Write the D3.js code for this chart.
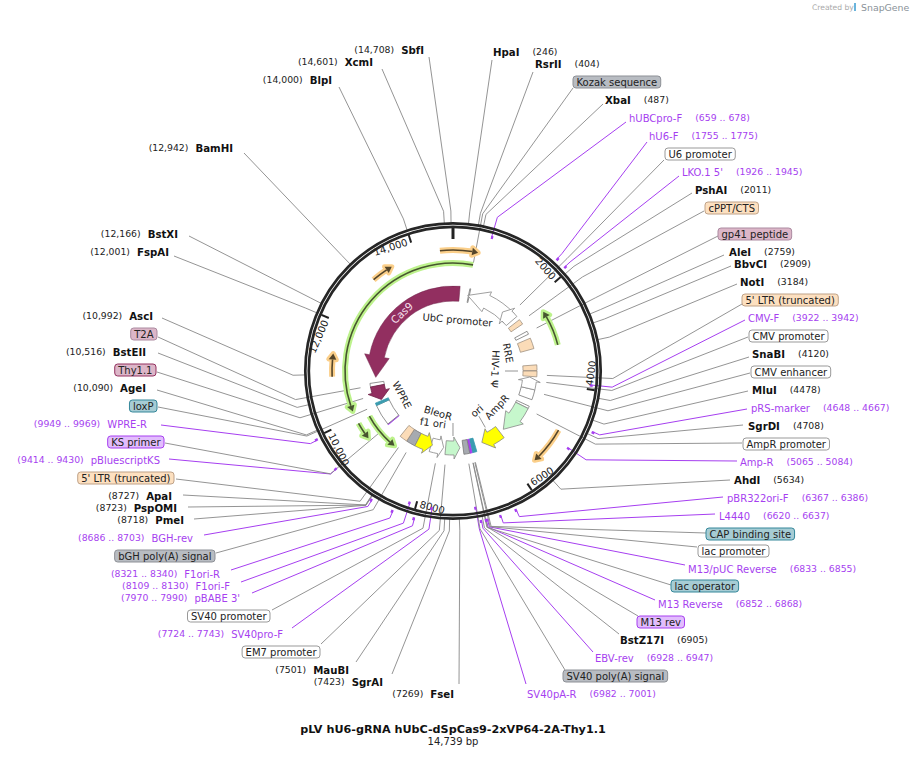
<!DOCTYPE html>
<html>
<head>
<meta charset="utf-8">
<script src="https://cdn.jsdelivr.net/npm/d3@7"></script>
<style>
  html, body { margin: 0; background: #fff; }
  text { font-family: "DejaVu Sans", sans-serif; }
</style>
</head>
<body>
<div id="chart"></div>
<script>
const totalBp = 14739;
const tickValues = [0, 2000, 4000, 6000, 8000, 10000, 12000, 14000];

// restriction sites [name, position]
const sites = [
  ["HpaI", 246], ["RsrII", 404], ["XbaI", 487], ["PshAI", 2011], ["AleI", 2759], ["BbvCI", 2909],
  ["NotI", 3184], ["SnaBI", 4120], ["MluI", 4478], ["SgrDI", 4708], ["AhdI", 5634], ["BstZ17I", 6905],
  ["FseI", 7269], ["SgrAI", 7423], ["MauBI", 7501], ["PmeI", 8718], ["PspOMI", 8723], ["ApaI", 8727],
  ["AgeI", 10090], ["BstEII", 10516], ["AscI", 10992], ["FspAI", 12001], ["BstXI", 12166],
  ["BamHI", 12942], ["BlpI", 14000], ["XcmI", 14601], ["SbfI", 14708]
];

// primers [name, start, end]
const primers = [
  ["hUBCpro-F", 659, 678], ["hU6-F", 1755, 1775], ["LKO.1 5'", 1926, 1945], ["CMV-F", 3922, 3942],
  ["pRS-marker", 4648, 4667], ["Amp-R", 5065, 5084], ["pBR322ori-F", 6367, 6386], ["L4440", 6620, 6637],
  ["M13/pUC Reverse", 6833, 6855], ["M13 Reverse", 6852, 6868], ["EBV-rev", 6928, 6947],
  ["SV40pA-R", 6982, 7001], ["SV40pro-F", 7724, 7743], ["pBABE 3'", 7970, 7990], ["F1ori-F", 8109, 8130],
  ["F1ori-R", 8321, 8340], ["BGH-rev", 8686, 8703], ["pBluescriptKS", 9414, 9430], ["WPRE-R", 9949, 9969]
];

// boxed feature labels [name, position the leader points at, colour group]
const featureLabels = [
  ["Kozak sequence", 438, "grey"], ["U6 promoter", 1859, "white"], ["cPPT/CTS", 2211, "orange"],
  ["gp41 peptide", 2571, "pink"], ["5' LTR (truncated)", 3795, "orange"], ["CMV promoter", 3971, "white"],
  ["CMV enhancer", 4274, "white"], ["AmpR promoter", 4798, "white"], ["CAP binding site", 6805, "teal"],
  ["lac promoter", 6820, "white"], ["lac operator", 6868, "teal"], ["M13 rev", 6861, "purple"],
  ["SV40 poly(A) signal", 6972, "grey"], ["EM7 promoter", 7570, "white"], ["SV40 promoter", 7812, "white"],
  ["bGH poly(A) signal", 8594, "grey"], ["5' LTR (truncated) ", 8823, "orange"], ["KS primer", 9417, "purple"],
  ["loxP", 10072, "teal"], ["Thy1.1", 10358, "thy"], ["T2A", 10633, "pink"]
];

// map arrows [name, start, head base, tip, fill]
const mapArrows = [
  ["Cas9", 197, 11505, 10862, "cas"], ["Thy1.1", 10604, 10420, 10166, "cas"],
  ["UbC promoter", 1924, 1064, 450, "white"], ["U6 promoter", 2027, 1822, 1638, "white"],
  ["CMV promoter", 4217, 3992, 3869, "white"], ["AmpR", 4770, 5200, 5699, "green"],
  ["ori", 5834, 6182, 6469, "yellow"], ["BleoR", 7595, 7341, 7157, "green"],
  ["SV40 promoter", 8045, 7799, 7656, "white"], ["f1 ori", 8475, 8229, 8004, "yellow"]
];

// map boxes [name, start, end, fill]
const mapBoxes = [
  ["Kozak", 475, 500, "white"], ["cPPT", 2141, 2293, "orange"], ["gp41", 2530, 2620, "white"],
  ["RRE", 2743, 3050, "orange"], ["LTR a", 3513, 3672, "orange"], ["LTR b", 3685, 3848, "orange"],
  ["CMV enhancer", 4217, 4504, "white"], ["AmpR promoter", 4700, 4770, "white"],
  ["lac", 6694, 6825, "teal"], ["M13 rev", 6833, 6890, "purple"], ["SV40 pA", 6898, 7063, "grey"],
  ["bGH", 8475, 8741, "grey"], ["LTR c", 8741, 8966, "orange"], ["KS", 9429, 9453, "purple"],
  ["WPRE", 9453, 10059, "white"], ["loxP", 10059, 10133, "teal"], ["T2A", 10592, 10706, "white"]
];

// translated regions drawn as thin highlighted arrows [start, tip, tier]
const orfArrows = [
  [438, 10153, "green"], [3112, 2321, "green"], [9867, 9478, "green"], [9892, 8925, "greenIn"],
  [14485, 491, "orange"], [13060, 13494, "orange"], [10944, 11394, "orange"], [4884, 5634, "orange"]
];

// short leaders of the labels inside the map [position]
const innerLeaders = [3685, 6150, 7370];

// ---------- layout, kept apart from the values ----------
const width = 910, height = 778, cx = 453, cy = 371;
const ringR = 149, elbowR = 160, featureLeaderR = 94;
const markOuter = 153, markInner = 139;
const innerMarkPrimers = ["hUBCpro-F", "CMV-F", "Amp-R", "SV40pA-R", "SV40pro-F", "F1ori-F"];
const sideSplit = 7100; // positions past this are labelled on the left

// name: [label x, label y, leader x, leader y]
const labelAt = {
  "HpaI": [493, 52, 492, 60], "RsrII": [535, 64, 533, 72], "Kozak sequence": [573, 82, 573, 88],
  "XbaI": [605, 100, 603, 104], "hUBCpro-F": [629, 118, 626, 122], "hU6-F": [649, 136, 647, 142],
  "U6 promoter": [665, 154, 664, 160], "LKO.1 5'": [682, 172, 679, 176], "PshAI": [695, 190, 692, 193],
  "cPPT/CTS": [705, 208, 704, 211], "gp41 peptide": [718, 234, 718, 236], "AleI": [729, 252, 724, 255],
  "BbvCI": [734, 264, 731, 266], "NotI": [740, 282, 737, 284], "5' LTR (truncated)": [742, 300, 742, 304],
  "CMV-F": [748, 318, 745, 320], "CMV promoter": [749, 336, 748, 337], "SnaBI": [752, 354, 749, 357],
  "CMV enhancer": [751, 372, 750, 373], "MluI": [752, 390, 748, 391], "pRS-marker": [751, 408, 747, 409],
  "SgrDI": [748, 426, 743, 425], "AmpR promoter": [743, 444, 742, 443], "Amp-R": [740, 462, 737, 461],
  "AhdI": [734, 480, 730, 480], "pBR322ori-F": [727, 498, 723, 497], "L4440": [719, 516, 715, 514],
  "CAP binding site": [706, 534, 706, 533], "lac promoter": [698, 551, 697, 547],
  "M13/pUC Reverse": [688, 569, 685, 565], "lac operator": [671, 586, 671, 585],
  "M13 Reverse": [658, 604, 655, 600], "M13 rev": [637, 622, 638, 616], "BstZ17I": [620, 640, 619, 634],
  "EBV-rev": [595, 658, 593, 652], "SV40 poly(A) signal": [563, 676, 565, 670], "SV40pA-R": [527, 694, 526, 684],
  "SbfI": [424, 50, 429, 57], "XcmI": [373, 62, 382, 69], "BlpI": [332, 80, 339, 87], "BamHI": [233, 148, 244, 153],
  "BstXI": [178, 234, 189, 236], "FspAI": [169, 252, 174, 256], "AscI": [153, 316, 162, 318], "T2A": [157, 334, 158, 337],
  "BstEII": [146, 352, 158, 353], "Thy1.1": [156, 370, 157, 372], "AgeI": [146, 388, 157, 390], "loxP": [157, 406, 158, 407],
  "WPRE-R": [147, 424, 161, 425], "KS primer": [164, 442, 165, 443], "pBluescriptKS": [160, 460, 169, 459],
  "5' LTR (truncated) ": [174, 478, 176, 479], "ApaI": [172, 496, 183, 495], "PspOMI": [177, 508, 188, 507],
  "PmeI": [184, 520, 194, 519], "BGH-rev": [193, 538, 204, 535], "bGH poly(A) signal": [215, 556, 216, 553],
  "F1ori-R": [220, 574, 231, 570], "F1ori-F": [230, 586, 241, 582], "pBABE 3'": [240, 598, 252, 593],
  "SV40 promoter": [270, 616, 272, 610], "SV40pro-F": [283, 634, 292, 628], "EM7 promoter": [320, 652, 321, 644],
  "MauBI": [349, 670, 356, 662], "SgrAI": [383, 682, 392, 674], "FseI": [454, 694, 459, 684]
};

// text inside the map: [text, x, y, rotation]
const innerTexts = [
  ["UbC promoter", 457.5, 320, 5], ["RRE", 508, 353, 80], ["HIV-1 \u03A8", 495, 369, 93],
  ["AmpR", 497, 407, -47], ["ori", 477, 411, -40], ["BleoR", 438, 413, 17],
  ["f1 ori", 433, 423, 8], ["WPRE", 402, 395, 62]
];

const boxColors = {
  grey: ["#b8bcc2", "#8d9096"], white: ["#fff", "#999"], orange: ["#fde0c0", "#bfa288"],
  pink: ["#dcb6c8", "#ab8aa0"], thy: ["#dcb6c8", "#93305f"], teal: ["#a6ccd4", "#34879a"],
  purple: ["#e2bdfd", "#a63ff0"]
};
const arrowColors = {
  cas: ["#922f60", "#6e2248"], white: ["#fff", "#888"], green: ["#c6f7cc", "#888"], yellow: ["#ffff00", "#888"]
};
const mapFills = {
  white: ["#fff", "#777"], orange: ["#fbdcb8", "#a09080"], teal: ["#3a9cb0", "#3a9cb0"],
  purple: ["#a63ff0", "#a63ff0"], grey: ["#a6aab0", "#777"]
};
const orfStyle = {
  green: { r: 108, glow: "#bdf28c", line: "#47552f" },
  greenIn: { r: 95, glow: "#bdf28c", line: "#47552f" },
  orange: { r: 121, glow: "#fbcf8a", line: "#54452a" }
};
const purple = "#a63ff0";

// ---------- drawing ----------
const angle = d3.scaleLinear().domain([0, totalBp]).range([0, 2 * Math.PI]);

function polar(bp, r) {
  const a = angle(bp);
  return [cx + r * Math.sin(a), cy - r * Math.cos(a)];
}

// true when going from start to tip runs against the clock (the shorter way round)
function runsBack(start, tip) {
  const d = tip - start;
  return d < 0 ? d > -totalBp / 2 : d > totalBp / 2;
}

const svg = d3.select("#chart").append("svg")
  .attr("width", width).attr("height", height)
  .style("display", "block");

const leaderG = svg.append("g");
const ringG = svg.append("g");
const mapG = svg.append("g");
const labelG = svg.append("g");

function addLeader(name, bp, endR, color) {
  const p = labelAt[name];
  const pts = [[p[2], p[3]], polar(bp, elbowR), polar(bp, endR)];
  leaderG.append("path")
    .attr("d", d3.line()(pts))
    .attr("fill", "none")
    .attr("stroke", color)
    .attr("stroke-width", color === purple ? 1 : 0.9);
}

function plainLabel(name, coordText, bp, color, bold) {
  const p = labelAt[name];
  const right = bp < sideSplit;
  const t = labelG.append("text")
    .attr("x", p[0]).attr("y", p[1]).attr("dy", "0.35em")
    .attr("text-anchor", right ? "start" : "end")
    .attr("fill", color)
    .attr("font-size", bold ? 10.2 : 10)
    .attr("font-weight", bold ? "bold" : "normal")
    .text(name);
  const w = t.node().getComputedTextLength();
  labelG.append("text")
    .attr("x", right ? p[0] + w + 13 : p[0] - w - 7)
    .attr("y", p[1]).attr("dy", "0.35em")
    .attr("text-anchor", right ? "start" : "end")
    .attr("fill", color === purple ? purple : "#222")
    .attr("font-size", 9.3)
    .text(coordText);
}

sites.forEach(([name, bp]) => {
  addLeader(name, bp, ringR - 1, "#888");
  plainLabel(name, "(" + d3.format(bp < 10000 ? "d" : ",")(bp) + ")", bp, "#111", true);
});

primers.forEach(([name, start, end]) => {
  const inner = innerMarkPrimers.includes(name);
  const markR = inner ? markInner : markOuter;
  addLeader(name, start, markR, purple);
  plainLabel(name, "(" + start + " .. " + end + ")", start, purple, false);
  mapG.append("path")
    .attr("transform", `translate(${cx},${cy})`)
    .attr("d", d3.arc()({
      innerRadius: markR - 1.5, outerRadius: markR + 1.5,
      startAngle: angle(start) - 0.004, endAngle: angle(end) + 0.004
    }))
    .attr("fill", purple);
});

featureLabels.forEach(([name, bp, group]) => {
  const endR = name === "Kozak sequence" ? 110 : featureLeaderR;
  addLeader(name, bp, endR, "#888");
  const p = labelAt[name];
  const right = bp < sideSplit;
  const colors = boxColors[group];
  const rect = labelG.append("rect");
  const t = labelG.append("text")
    .attr("x", right ? p[0] + 3.5 : p[0] - 3.5)
    .attr("y", p[1]).attr("dy", "0.35em")
    .attr("text-anchor", right ? "start" : "end")
    .attr("fill", "#222")
    .attr("font-size", 10)
    .text(name.trim());
  const w = t.node().getComputedTextLength() + 7;
  rect.attr("x", right ? p[0] : p[0] - w)
    .attr("y", p[1] - 6)
    .attr("width", w).attr("height", 12)
    .attr("rx", 3)
    .attr("fill", colors[0])
    .attr("stroke", colors[1])
    .attr("stroke-width", 1);
});

// the two-line ring and its ticks
[147.7, 144.2].forEach(r => {
  ringG.append("circle")
    .attr("cx", cx).attr("cy", cy).attr("r", r)
    .attr("fill", "none")
    .attr("stroke", "#262626")
    .attr("stroke-width", 2.7);
});

tickValues.forEach(v => {
  ringG.append("path")
    .attr("d", d3.line()([polar(v, 143), polar(v, v === 0 ? 132 : 135)]))
    .attr("stroke", "#222")
    .attr("stroke-width", v === 0 ? 3 : 2);
  if (v === 0) return;
  const deg = angle(v) * 180 / Math.PI;
  const upper = deg < 90 || deg > 270;
  const rot = deg < 90 ? deg : deg > 270 ? deg - 360 : deg - 180;
  const p = polar(v, 137);
  ringG.append("text")
    .attr("transform", `translate(${p[0]},${p[1]}) rotate(${rot})`)
    .attr("dx", upper ? -3.5 : 3.5)
    .attr("dy", "0.35em")
    .attr("text-anchor", upper ? "end" : "start")
    .attr("font-size", 10)
    .attr("fill", "#222")
    .text(v < 10000 ? String(v) : d3.format(",")(v));
});

// highlighted arrows of the translated regions
function orfParts(start, tip, r) {
  const ccw = runsBack(start, tip);
  const dir = ccw ? -1 : 1;
  const headLen = 6 / (r * (2 * Math.PI / totalBp));
  const base = tip - dir * headLen;
  const line = d3.path();
  line.moveTo(...polar(start, r));
  line.arc(cx, cy, r, angle(start) - Math.PI / 2, angle(base) - Math.PI / 2, ccw);
  const head = d3.line()([polar(base, r - 3.8), polar(tip, r), polar(base, r + 3.8)]) + "Z";
  return [line.toString(), head];
}

orfArrows.forEach(([start, tip, tier]) => {
  const st = orfStyle[tier];
  const [line, head] = orfParts(start, tip, st.r);
  mapG.append("path").attr("d", line).attr("fill", "none").attr("stroke", st.glow).attr("stroke-width", 6);
  mapG.append("path").attr("d", head).attr("fill", st.glow).attr("stroke", st.glow)
    .attr("stroke-width", 5).attr("stroke-linejoin", "round");
});
orfArrows.forEach(([start, tip, tier]) => {
  const st = orfStyle[tier];
  const [line, head] = orfParts(start, tip, st.r);
  mapG.append("path").attr("d", line).attr("fill", "none").attr("stroke", st.line).attr("stroke-width", 1.6);
  mapG.append("path").attr("d", head).attr("fill", st.line);
});

// feature arrows and boxes
function arrowPath(start, headBase, tip, r0, r1, h0, h1) {
  const ccw = runsBack(start, tip);
  const p = d3.path();
  p.moveTo(...polar(start, r1));
  p.arc(cx, cy, r1, angle(start) - Math.PI / 2, angle(headBase) - Math.PI / 2, ccw);
  p.lineTo(...polar(headBase, h1));
  p.lineTo(...polar(tip, (r0 + r1) / 2));
  p.lineTo(...polar(headBase, h0));
  p.lineTo(...polar(headBase, r0));
  p.arc(cx, cy, r0, angle(headBase) - Math.PI / 2, angle(start) - Math.PI / 2, !ccw);
  p.closePath();
  return p.toString();
}

mapBoxes.forEach(([name, start, end, fill]) => {
  const c = mapFills[fill];
  mapG.append("path")
    .attr("transform", `translate(${cx},${cy})`)
    .attr("d", d3.arc()({ innerRadius: 70, outerRadius: 84, startAngle: angle(start), endAngle: angle(end) }))
    .attr("fill", c[0])
    .attr("stroke", c[1])
    .attr("stroke-width", 0.8);
});

mapArrows.forEach(([name, start, headBase, tip, fill]) => {
  const c = arrowColors[fill];
  const big = name === "Cas9";
  mapG.append("path")
    .attr("d", arrowPath(start, headBase, tip, 70, big ? 85 : 84, big ? 65 : 66, big ? 90 : 88))
    .attr("fill", c[0])
    .attr("stroke", c[1])
    .attr("stroke-width", big ? 0.5 : 0.8);
});

innerLeaders.forEach(bp => {
  mapG.append("path")
    .attr("d", d3.line()([polar(bp, 52), polar(bp, 65)]))
    .attr("stroke", "#888").attr("stroke-width", 0.9);
});

innerTexts.forEach(([txt, x, y, rot]) => {
  mapG.append("text")
    .attr("transform", `translate(${x},${y}) rotate(${rot})`)
    .attr("text-anchor", "middle").attr("dy", "0.35em")
    .attr("font-size", 10).attr("fill", "#222")
    .text(txt);
});

mapG.append("text")
  .attr("transform", "translate(402,313) rotate(-43)")
  .attr("text-anchor", "middle").attr("dy", "0.35em")
  .attr("font-size", 10.5).attr("fill", "#f4dfe9")
  .text("Cas9");

// title and credit
svg.append("text").attr("x", 453).attr("y", 733).attr("text-anchor", "middle")
  .attr("font-size", 11.2).attr("font-weight", "bold").attr("fill", "#111")
  .text("pLV hU6-gRNA hUbC-dSpCas9-2xVP64-2A-Thy1.1");
svg.append("text").attr("x", 453).attr("y", 745).attr("text-anchor", "middle")
  .attr("font-size", 10).attr("fill", "#222")
  .text("14,739 bp");

svg.append("text").attr("x", 812).attr("y", 10).attr("font-size", 7.6).attr("fill", "#aaa").text("Created by");
svg.append("path").attr("d", d3.line()([[855, 3], [855, 11]])).attr("stroke", "#6ab4dc").attr("stroke-width", 2);
svg.append("text").attr("x", 861).attr("y", 10.5).attr("font-size", 9.4).attr("fill", "#8a9299").text("SnapGene");
</script>
</body>
</html>
